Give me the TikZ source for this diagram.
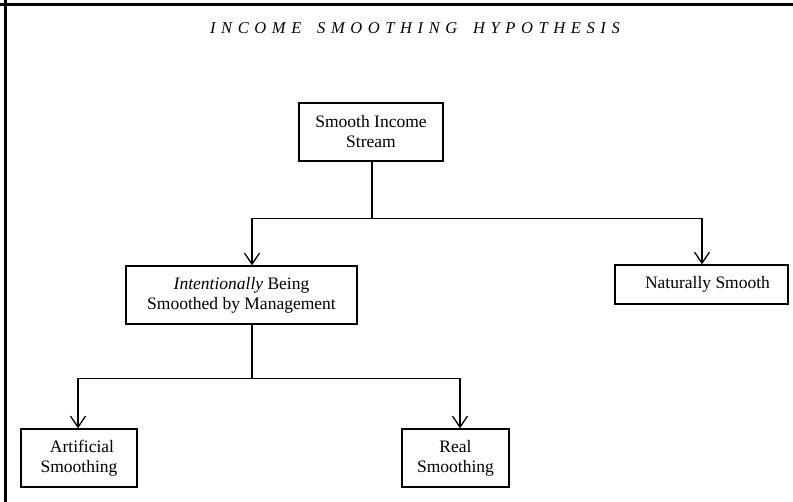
\documentclass[tikz,border=0pt]{standalone}
\usepackage{fontspec}
\setmainfont{Liberation Serif}
\usetikzlibrary{arrows.meta}
\begin{document}
\begin{tikzpicture}[x=1pt,y=-1pt,
  box/.style={draw,line width=1.4pt,inner sep=0pt,align=center,
    font=\fontsize{17.5}{20}\selectfont},
  conn/.style={line width=1.3pt},
  arr/.style={conn,-{Straight Barb[length=11pt,width=15pt,line width=1.3pt]}}]
\useasboundingbox (0,0) rectangle (793,502);
% frame (top and left only)
\draw[line width=3pt] (0,4.7) -- (793,4.7);
\draw[line width=3pt] (5.5,0) -- (5.5,502);
% title
\node (title) at (415,28) {\fontsize{16.5}{18}\selectfont\itshape\addfontfeature{LetterSpace=34}INCOME\hspace{6pt} SMOOTHING\hspace{6pt} HYPOTHESIS};
% boxes
\node[box,minimum width=144pt,minimum height=58pt] (top) at (371,132) {Smooth Income\\Stream};
\node[box,minimum width=231pt,minimum height=58pt] (intent) at (241.5,295) {\textit{Intentionally} Being\\Smoothed by Management};
\node[box,minimum width=173pt,minimum height=39pt] (natural) at (701.5,284.5) {\hspace{12pt}Naturally Smooth};
\node[box,minimum width=116pt,minimum height=58pt] (artif) at (79,458) {\hspace{6pt}Artificial\\Smoothing};
\node[box,minimum width=107pt,minimum height=58pt] (real) at (455.5,458) {Real\\Smoothing};
% connectors
\coordinate (j1) at ([yshift=-57pt]top.south);
\draw[conn] ([xshift=1pt]top.south) -- ([xshift=1pt]j1);
\draw[arr] ([xshift=1pt]j1) -| ([xshift=10.5pt]intent.north);
\draw[arr] ([xshift=1pt]j1) -| ([xshift=0.5pt]natural.north);
\coordinate (j2) at ([xshift=10.5pt,yshift=-54pt]intent.south);
\draw[conn] ([xshift=10.5pt]intent.south) -- (j2);
\draw[arr] (j2) -| ([xshift=-1pt]artif.north);
\draw[arr] (j2) -| ([xshift=4.5pt]real.north);
\end{tikzpicture}
\end{document}
